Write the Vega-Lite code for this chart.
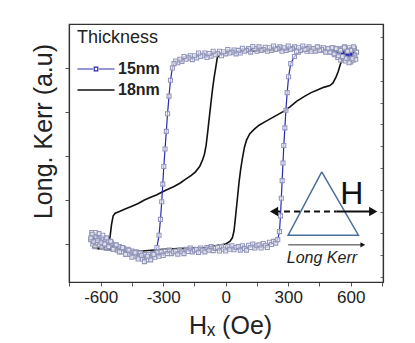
{
  "$schema": "https://vega.github.io/schema/vega-lite/v6.json",
  "width": 314,
  "height": 258,
  "autosize": "none",
  "padding": {"left": 69, "top": 24, "right": 32, "bottom": 61},
  "config": {
    "view": {"stroke": "#333", "strokeWidth": 1.2},
    "font": "Liberation Sans",
    "axis": {"grid": false, "domainColor": "#333", "domainWidth": 1.2, "tickColor": "#555", "labelFont": "Liberation Sans", "titleFont": "Liberation Sans"}
  },
  "datasets": {
    "loops": [
      {"s":"18nm","h":625,"kerr":1.2},{"s":"18nm","h":590,"kerr":1.19},{"s":"18nm","h":560,"kerr":1.18},{"s":"18nm","h":500,"kerr":1.2},{"s":"18nm","h":400,"kerr":1.2},{"s":"18nm","h":300,"kerr":1.21},{"s":"18nm","h":200,"kerr":1.2},{"s":"18nm","h":100,"kerr":1.19},{"s":"18nm","h":0,"kerr":1.17},{"s":"18nm","h":-30,"kerr":1.15},{"s":"18nm","h":-40,"kerr":1.12},{"s":"18nm","h":-48,"kerr":1.0},{"s":"18nm","h":-55,"kerr":0.9},{"s":"18nm","h":-62,"kerr":0.78},{"s":"18nm","h":-70,"kerr":0.62},{"s":"18nm","h":-78,"kerr":0.45},{"s":"18nm","h":-86,"kerr":0.28},{"s":"18nm","h":-94,"kerr":0.12},{"s":"18nm","h":-102,"kerr":0.02},{"s":"18nm","h":-112,"kerr":-0.05},{"s":"18nm","h":-125,"kerr":-0.12},{"s":"18nm","h":-145,"kerr":-0.18},{"s":"18nm","h":-165,"kerr":-0.22},{"s":"18nm","h":-190,"kerr":-0.26},{"s":"18nm","h":-220,"kerr":-0.31},{"s":"18nm","h":-250,"kerr":-0.35},{"s":"18nm","h":-280,"kerr":-0.38},{"s":"18nm","h":-305,"kerr":-0.41},{"s":"18nm","h":-330,"kerr":-0.44},{"s":"18nm","h":-360,"kerr":-0.47},{"s":"18nm","h":-390,"kerr":-0.5},{"s":"18nm","h":-420,"kerr":-0.54},{"s":"18nm","h":-450,"kerr":-0.57},{"s":"18nm","h":-480,"kerr":-0.6},{"s":"18nm","h":-510,"kerr":-0.63},{"s":"18nm","h":-530,"kerr":-0.65},{"s":"18nm","h":-540,"kerr":-0.68},{"s":"18nm","h":-548,"kerr":-0.78},{"s":"18nm","h":-554,"kerr":-0.9},{"s":"18nm","h":-560,"kerr":-1.0},{"s":"18nm","h":-590,"kerr":-1.05},{"s":"18nm","h":-640,"kerr":-1.04},{"s":"18nm","h":-600,"kerr":-1.06},{"s":"18nm","h":-500,"kerr":-1.07},{"s":"18nm","h":-400,"kerr":-1.08},{"s":"18nm","h":-300,"kerr":-1.06},{"s":"18nm","h":-200,"kerr":-1.05},{"s":"18nm","h":-100,"kerr":-1.04},{"s":"18nm","h":0,"kerr":-1.0},{"s":"18nm","h":20,"kerr":-0.97},{"s":"18nm","h":32,"kerr":-0.93},{"s":"18nm","h":40,"kerr":-0.85},{"s":"18nm","h":46,"kerr":-0.72},{"s":"18nm","h":52,"kerr":-0.58},{"s":"18nm","h":58,"kerr":-0.44},{"s":"18nm","h":64,"kerr":-0.3},{"s":"18nm","h":72,"kerr":-0.15},{"s":"18nm","h":80,"kerr":-0.03},{"s":"18nm","h":90,"kerr":0.1},{"s":"18nm","h":100,"kerr":0.18},{"s":"18nm","h":115,"kerr":0.25},{"s":"18nm","h":135,"kerr":0.3},{"s":"18nm","h":160,"kerr":0.35},{"s":"18nm","h":190,"kerr":0.39},{"s":"18nm","h":220,"kerr":0.43},{"s":"18nm","h":250,"kerr":0.47},{"s":"18nm","h":280,"kerr":0.51},{"s":"18nm","h":310,"kerr":0.56},{"s":"18nm","h":340,"kerr":0.62},{"s":"18nm","h":380,"kerr":0.68},{"s":"18nm","h":410,"kerr":0.72},{"s":"18nm","h":440,"kerr":0.75},{"s":"18nm","h":470,"kerr":0.78},{"s":"18nm","h":500,"kerr":0.8},{"s":"18nm","h":515,"kerr":0.83},{"s":"18nm","h":530,"kerr":0.9},{"s":"18nm","h":540,"kerr":0.96},{"s":"18nm","h":550,"kerr":1.04},{"s":"18nm","h":560,"kerr":1.1},{"s":"18nm","h":575,"kerr":1.15},{"s":"18nm","h":600,"kerr":1.18},{"s":"18nm","h":625,"kerr":1.19},

      {"s":"15nm","h":-648,"kerr":-0.95},{"s":"15nm","h":-643,"kerr":-0.87},{"s":"15nm","h":-638,"kerr":-1.0},{"s":"15nm","h":-632,"kerr":-0.9},{"s":"15nm","h":-627,"kerr":-1.03},{"s":"15nm","h":-622,"kerr":-0.92},{"s":"15nm","h":-617,"kerr":-0.99},{"s":"15nm","h":-611,"kerr":-0.89},{"s":"15nm","h":-606,"kerr":-1.01},{"s":"15nm","h":-600,"kerr":-0.93},{"s":"15nm","h":-594,"kerr":-1.04},{"s":"15nm","h":-588,"kerr":-0.94},{"s":"15nm","h":-582,"kerr":-1.0},{"s":"15nm","h":-576,"kerr":-0.95},{"s":"15nm","h":-570,"kerr":-1.05},{"s":"15nm","h":-563,"kerr":-0.97},{"s":"15nm","h":-556,"kerr":-1.03},{"s":"15nm","h":-548,"kerr":-0.99},{"s":"15nm","h":-540,"kerr":-1.06},{"s":"15nm","h":-530,"kerr":-1.01},{"s":"15nm","h":-520,"kerr":-1.07},{"s":"15nm","h":-510,"kerr":-1.03},{"s":"15nm","h":-500,"kerr":-1.09},{"s":"15nm","h":-490,"kerr":-1.05},{"s":"15nm","h":-480,"kerr":-1.11},{"s":"15nm","h":-470,"kerr":-1.06},{"s":"15nm","h":-460,"kerr":-1.12},{"s":"15nm","h":-450,"kerr":-1.08},{"s":"15nm","h":-440,"kerr":-1.14},{"s":"15nm","h":-430,"kerr":-1.09},{"s":"15nm","h":-420,"kerr":-1.15},{"s":"15nm","h":-410,"kerr":-1.1},{"s":"15nm","h":-400,"kerr":-1.17},{"s":"15nm","h":-390,"kerr":-1.12},{"s":"15nm","h":-380,"kerr":-1.18},{"s":"15nm","h":-370,"kerr":-1.12},{"s":"15nm","h":-360,"kerr":-1.16},{"s":"15nm","h":-350,"kerr":-1.11},{"s":"15nm","h":-340,"kerr":-1.15},{"s":"15nm","h":-330,"kerr":-1.1},{"s":"15nm","h":-320,"kerr":-1.14},{"s":"15nm","h":-310,"kerr":-1.09},
      {"s":"15nm","h":-300,"kerr":-1.13},{"s":"15nm","h":-290,"kerr":-1.08},{"s":"15nm","h":-280,"kerr":-1.11},{"s":"15nm","h":-270,"kerr":-1.07},{"s":"15nm","h":-260,"kerr":-1.11},{"s":"15nm","h":-250,"kerr":-1.09},{"s":"15nm","h":-240,"kerr":-1.08},{"s":"15nm","h":-230,"kerr":-1.115},{"s":"15nm","h":-220,"kerr":-1.065},{"s":"15nm","h":-210,"kerr":-1.09},{"s":"15nm","h":-200,"kerr":-1.11},{"s":"15nm","h":-190,"kerr":-1.06},{"s":"15nm","h":-180,"kerr":-1.085},{"s":"15nm","h":-170,"kerr":-1.045},{"s":"15nm","h":-160,"kerr":-1.09},{"s":"15nm","h":-150,"kerr":-1.07},{"s":"15nm","h":-140,"kerr":-1.06},{"s":"15nm","h":-130,"kerr":-1.095},{"s":"15nm","h":-120,"kerr":-1.045},{"s":"15nm","h":-110,"kerr":-1.07},{"s":"15nm","h":-100,"kerr":-1.09},{"s":"15nm","h":-90,"kerr":-1.04},{"s":"15nm","h":-80,"kerr":-1.07},{"s":"15nm","h":-70,"kerr":-1.03},{"s":"15nm","h":-60,"kerr":-1.075},{"s":"15nm","h":-50,"kerr":-1.05},{"s":"15nm","h":-40,"kerr":-1.04},{"s":"15nm","h":-30,"kerr":-1.08},{"s":"15nm","h":-20,"kerr":-1.03},{"s":"15nm","h":-10,"kerr":-1.06},{"s":"15nm","h":0,"kerr":-1.08},{"s":"15nm","h":10,"kerr":-1.03},{"s":"15nm","h":20,"kerr":-1.06},{"s":"15nm","h":30,"kerr":-1.02},{"s":"15nm","h":40,"kerr":-1.065},{"s":"15nm","h":50,"kerr":-1.04},{"s":"15nm","h":60,"kerr":-1.03},{"s":"15nm","h":70,"kerr":-1.07},{"s":"15nm","h":80,"kerr":-1.02},{"s":"15nm","h":90,"kerr":-1.05},{"s":"15nm","h":100,"kerr":-1.07},{"s":"15nm","h":110,"kerr":-1.015},{"s":"15nm","h":120,"kerr":-1.04},{"s":"15nm","h":130,"kerr":-1.0},{"s":"15nm","h":140,"kerr":-1.045},{"s":"15nm","h":150,"kerr":-1.02},{"s":"15nm","h":160,"kerr":-1.01},{"s":"15nm","h":170,"kerr":-1.045},{"s":"15nm","h":180,"kerr":-0.995},{"s":"15nm","h":190,"kerr":-1.02},{"s":"15nm","h":200,"kerr":-1.04},{"s":"15nm","h":210,"kerr":-0.98},{"s":"15nm","h":220,"kerr":-1.005},{"s":"15nm","h":230,"kerr":-0.97},{"s":"15nm","h":240,"kerr":-0.99},{"s":"15nm","h":250,"kerr":-0.95},
      {"s":"15nm","h":258,"kerr":-0.86},{"s":"15nm","h":263,"kerr":-0.68},{"s":"15nm","h":267,"kerr":-0.48},{"s":"15nm","h":271,"kerr":-0.28},{"s":"15nm","h":275,"kerr":-0.08},{"s":"15nm","h":279,"kerr":0.12},{"s":"15nm","h":284,"kerr":0.32},{"s":"15nm","h":289,"kerr":0.52},{"s":"15nm","h":295,"kerr":0.72},{"s":"15nm","h":302,"kerr":0.9},{"s":"15nm","h":312,"kerr":1.05},{"s":"15nm","h":330,"kerr":1.13},
      {"s":"15nm","h":350,"kerr":1.18},{"s":"15nm","h":370,"kerr":1.21},{"s":"15nm","h":390,"kerr":1.19},{"s":"15nm","h":410,"kerr":1.22},{"s":"15nm","h":430,"kerr":1.2},{"s":"15nm","h":450,"kerr":1.23},{"s":"15nm","h":470,"kerr":1.2},{"s":"15nm","h":490,"kerr":1.22},{"s":"15nm","h":505,"kerr":1.18},{"s":"15nm","h":515,"kerr":1.23},{"s":"15nm","h":524,"kerr":1.15},{"s":"15nm","h":532,"kerr":1.22},{"s":"15nm","h":538,"kerr":1.12},{"s":"15nm","h":545,"kerr":1.21},{"s":"15nm","h":552,"kerr":1.09},{"s":"15nm","h":558,"kerr":1.22},{"s":"15nm","h":564,"kerr":1.12},{"s":"15nm","h":570,"kerr":1.24},{"s":"15nm","h":576,"kerr":1.08},{"s":"15nm","h":582,"kerr":1.2},{"s":"15nm","h":588,"kerr":1.1},{"s":"15nm","h":594,"kerr":1.23},{"s":"15nm","h":600,"kerr":1.07},{"s":"15nm","h":606,"kerr":1.21},{"s":"15nm","h":612,"kerr":1.09},{"s":"15nm","h":618,"kerr":1.22},{"s":"15nm","h":624,"kerr":1.1},{"s":"15nm","h":628,"kerr":1.18},
      {"s":"15nm","h":620,"kerr":1.14},{"s":"15nm","h":614,"kerr":1.24},{"s":"15nm","h":607,"kerr":1.11},{"s":"15nm","h":600,"kerr":1.2},{"s":"15nm","h":592,"kerr":1.06},{"s":"15nm","h":585,"kerr":1.19},{"s":"15nm","h":577,"kerr":1.11},{"s":"15nm","h":569,"kerr":1.23},{"s":"15nm","h":560,"kerr":1.13},{"s":"15nm","h":551,"kerr":1.2},{"s":"15nm","h":541,"kerr":1.14},{"s":"15nm","h":530,"kerr":1.22},{"s":"15nm","h":520,"kerr":1.16},
      {"s":"15nm","h":510,"kerr":1.23},{"s":"15nm","h":500,"kerr":1.18},{"s":"15nm","h":490,"kerr":1.22},{"s":"15nm","h":480,"kerr":1.18},{"s":"15nm","h":470,"kerr":1.23},{"s":"15nm","h":460,"kerr":1.21},{"s":"15nm","h":450,"kerr":1.2},{"s":"15nm","h":440,"kerr":1.24},{"s":"15nm","h":430,"kerr":1.19},{"s":"15nm","h":420,"kerr":1.22},{"s":"15nm","h":410,"kerr":1.19},{"s":"15nm","h":400,"kerr":1.24},{"s":"15nm","h":390,"kerr":1.22},{"s":"15nm","h":380,"kerr":1.21},{"s":"15nm","h":370,"kerr":1.25},{"s":"15nm","h":360,"kerr":1.2},{"s":"15nm","h":350,"kerr":1.23},{"s":"15nm","h":340,"kerr":1.19},{"s":"15nm","h":330,"kerr":1.24},{"s":"15nm","h":320,"kerr":1.22},{"s":"15nm","h":310,"kerr":1.21},{"s":"15nm","h":300,"kerr":1.25},{"s":"15nm","h":290,"kerr":1.2},{"s":"15nm","h":280,"kerr":1.23},{"s":"15nm","h":270,"kerr":1.19},{"s":"15nm","h":260,"kerr":1.24},{"s":"15nm","h":250,"kerr":1.22},{"s":"15nm","h":240,"kerr":1.21},{"s":"15nm","h":230,"kerr":1.25},{"s":"15nm","h":220,"kerr":1.2},{"s":"15nm","h":210,"kerr":1.23},{"s":"15nm","h":200,"kerr":1.19},{"s":"15nm","h":190,"kerr":1.235},{"s":"15nm","h":180,"kerr":1.21},{"s":"15nm","h":170,"kerr":1.2},{"s":"15nm","h":160,"kerr":1.24},{"s":"15nm","h":150,"kerr":1.19},{"s":"15nm","h":140,"kerr":1.22},{"s":"15nm","h":130,"kerr":1.245},{"s":"15nm","h":120,"kerr":1.18},{"s":"15nm","h":110,"kerr":1.22},{"s":"15nm","h":100,"kerr":1.2},{"s":"15nm","h":90,"kerr":1.19},{"s":"15nm","h":80,"kerr":1.225},{"s":"15nm","h":70,"kerr":1.17},{"s":"15nm","h":60,"kerr":1.2},{"s":"15nm","h":50,"kerr":1.16},{"s":"15nm","h":40,"kerr":1.205},{"s":"15nm","h":30,"kerr":1.18},{"s":"15nm","h":20,"kerr":1.17},{"s":"15nm","h":10,"kerr":1.21},{"s":"15nm","h":0,"kerr":1.16},{"s":"15nm","h":-10,"kerr":1.185},{"s":"15nm","h":-20,"kerr":1.14},{"s":"15nm","h":-30,"kerr":1.19},{"s":"15nm","h":-40,"kerr":1.165},{"s":"15nm","h":-50,"kerr":1.15},{"s":"15nm","h":-60,"kerr":1.19},{"s":"15nm","h":-70,"kerr":1.135},{"s":"15nm","h":-80,"kerr":1.165},{"s":"15nm","h":-90,"kerr":1.12},{"s":"15nm","h":-100,"kerr":1.17},{"s":"15nm","h":-110,"kerr":1.145},{"s":"15nm","h":-120,"kerr":1.13},{"s":"15nm","h":-130,"kerr":1.17},{"s":"15nm","h":-140,"kerr":1.115},{"s":"15nm","h":-150,"kerr":1.14},{"s":"15nm","h":-160,"kerr":1.095},{"s":"15nm","h":-170,"kerr":1.14},{"s":"15nm","h":-180,"kerr":1.115},{"s":"15nm","h":-190,"kerr":1.1},{"s":"15nm","h":-200,"kerr":1.13},{"s":"15nm","h":-210,"kerr":1.075},{"s":"15nm","h":-220,"kerr":1.1},{"s":"15nm","h":-230,"kerr":1.06},{"s":"15nm","h":-240,"kerr":1.08},{"s":"15nm","h":-248,"kerr":1.05},
      {"s":"15nm","h":-256,"kerr":1.0},{"s":"15nm","h":-265,"kerr":0.86},{"s":"15nm","h":-272,"kerr":0.68},{"s":"15nm","h":-279,"kerr":0.48},{"s":"15nm","h":-285,"kerr":0.28},{"s":"15nm","h":-291,"kerr":0.08},{"s":"15nm","h":-297,"kerr":-0.12},{"s":"15nm","h":-302,"kerr":-0.32},{"s":"15nm","h":-307,"kerr":-0.52},{"s":"15nm","h":-313,"kerr":-0.72},{"s":"15nm","h":-320,"kerr":-0.9},{"s":"15nm","h":-330,"kerr":-1.04},
      {"s":"15nm","h":-345,"kerr":-1.12},{"s":"15nm","h":-360,"kerr":-1.18},{"s":"15nm","h":-375,"kerr":-1.14},{"s":"15nm","h":-390,"kerr":-1.2},{"s":"15nm","h":-405,"kerr":-1.13},{"s":"15nm","h":-420,"kerr":-1.17},{"s":"15nm","h":-435,"kerr":-1.1},{"s":"15nm","h":-450,"kerr":-1.15},{"s":"15nm","h":-465,"kerr":-1.07},{"s":"15nm","h":-480,"kerr":-1.12},{"s":"15nm","h":-495,"kerr":-1.04},{"s":"15nm","h":-510,"kerr":-1.09},{"s":"15nm","h":-525,"kerr":-1.01},{"s":"15nm","h":-540,"kerr":-1.06},{"s":"15nm","h":-552,"kerr":-0.97},{"s":"15nm","h":-562,"kerr":-1.03},{"s":"15nm","h":-572,"kerr":-0.93},{"s":"15nm","h":-581,"kerr":-1.0},{"s":"15nm","h":-590,"kerr":-0.9},{"s":"15nm","h":-599,"kerr":-0.98},{"s":"15nm","h":-608,"kerr":-0.88},{"s":"15nm","h":-617,"kerr":-0.96},{"s":"15nm","h":-626,"kerr":-0.87},{"s":"15nm","h":-634,"kerr":-0.97},{"s":"15nm","h":-641,"kerr":-0.89},{"s":"15nm","h":-647,"kerr":-0.93}
    ],
    "triangle": [
      {"h": 461, "kerr": -0.18}, {"h": 300, "kerr": -0.9}, {"h": 637, "kerr": -0.9}, {"h": 461, "kerr": -0.18}
    ],
    "hDashed": [{"h": 232, "h2": 533, "kerr": -0.63}],
    "hSolid": [{"h": 533, "h2": 705, "kerr": -0.63}],
    "hLeftHead": [{"h": 232, "kerr": -0.63}],
    "hRightHead": [{"h": 708, "kerr": -0.63}],
    "kerrArrow": [{"h": 300, "h2": 655, "kerr": -1.01}],
    "kerrHead": [{"h": 658, "kerr": -1.01}],
    "hLabel": [{"h": 605, "kerr": -0.43, "t": "H"}],
    "kerrLabel": [{"h": 462, "kerr": -1.16, "t": "Long Kerr"}]
  },
  "encoding": {
    "x": {"field": "h", "type": "quantitative", "scale": {"domain": [-752, 755], "nice": false, "zero": false},
      "axis": {"orient": "bottom", "values": [-750,-600,-450,-300,-150,0,150,300,450,600,750],
        "labelExpr": "datum.value % 300 == 0 ? '' + datum.value : ''",
        "tickSize": 4, "labelFontSize": 17, "labelColor": "#222", "labelPadding": 3, "labelOverlap": false,
        "title": "Hₓ (Oe)", "titleFontSize": 25, "titleFontWeight": "normal", "titleColor": "#222",
        "titleX": 161, "titleY": 51, "titleBaseline": "alphabetic", "titleAlign": "center"}},
    "y": {"field": "kerr", "type": "quantitative", "scale": {"domain": [-1.432, 1.5], "nice": false, "zero": false}, "axis": null}
  },
  "layer": [
    {
      "data": {"name": "loops"},
      "mark": {"type": "line", "interpolate": "linear"},
      "encoding": {
        "y": {"field": "kerr", "type": "quantitative", "scale": {"domain": [-1.432, 1.5], "nice": false, "zero": false},
          "axis": {"orient": "left", "labels": false, "values": [-1,-0.5,0,0.5,1], "tickSize": 4,
            "title": "Long. Kerr (a.u)", "titleFontSize": 25, "titleFontWeight": "normal", "titleColor": "#222",
            "titleX": -26, "titleY": 107, "titleBaseline": "middle", "titleAlign": "center", "titleAngle": -90}},
        "order": {"value": null},
        "color": {"field": "s", "type": "nominal", "scale": {"domain": ["15nm", "18nm"], "range": ["#2a2ab2", "#111111"]},
          "legend": {"orient": "none", "legendX": 8, "legendY": 5, "title": "Thickness", "titleFontSize": 18, "titleFontWeight": "normal", "titleColor": "#222", "titlePadding": 11,
            "labelFontSize": 16, "labelFontWeight": "bold", "labelColor": "#222", "labelOffset": 11,
            "symbolSize": 400, "symbolOffset": 8, "symbolStrokeWidth": 1.5, "rowPadding": 2, "padding": 0,
            "encode": {"symbols": {"update": {
              "shape": {"signal": "datum.value == '15nm' ? 'M-1.85,0H-0.3M0.3,0H1.85M-0.18,-0.18H0.18V0.18H-0.18Z' : 'M-1.85,0H1.85'"},
              "fill": {"value": "white"}, "fillOpacity": {"value": 1}}}}}},
        "strokeWidth": {"field": "s", "type": "nominal", "scale": {"domain": ["15nm", "18nm"], "range": [1.2, 1.6]}, "legend": null}
      }
    },
    {
      "data": {"name": "loops"},
      "transform": [{"filter": "datum.s == '15nm'"}],
      "mark": {"type": "point", "shape": "square", "size": 16, "filled": true, "fill": "white", "fillOpacity": 0.6, "stroke": "#9296b8", "strokeWidth": 1.1, "opacity": 1},
      "encoding": {
        "y": {"field": "kerr", "type": "quantitative", "scale": {"domain": [-1.432, 1.5], "nice": false, "zero": false},
          "axis": {"orient": "right", "labels": false, "title": null, "tickSize": -3, "tickColor": "#666",
            "values": [1.35, 1.102, 0.855, 0.607, 0.359, 0.112, -0.136, -0.384, -0.632, -0.879, -1.127, -1.375]}}
      }
    },
    {
      "data": {"name": "triangle"},
      "mark": {"type": "line", "color": "#4b6e9b", "strokeWidth": 1.5},
      "encoding": {"order": {"value": null}}
    },
    {
      "data": {"name": "hDashed"},
      "mark": {"type": "rule", "color": "#111", "strokeWidth": 2, "strokeDash": [6, 4]},
      "encoding": {"x2": {"field": "h2"}}
    },
    {
      "data": {"name": "hSolid"},
      "mark": {"type": "rule", "color": "#111", "strokeWidth": 2},
      "encoding": {"x2": {"field": "h2"}}
    },
    {
      "data": {"name": "hLeftHead"},
      "mark": {"type": "point", "shape": "triangle-left", "size": 90, "filled": true, "color": "#111", "opacity": 1}
    },
    {
      "data": {"name": "hRightHead"},
      "mark": {"type": "point", "shape": "triangle-right", "size": 90, "filled": true, "color": "#111", "opacity": 1}
    },
    {
      "data": {"name": "kerrArrow"},
      "mark": {"type": "rule", "color": "#333", "strokeWidth": 1},
      "encoding": {"x2": {"field": "h2"}}
    },
    {
      "data": {"name": "kerrHead"},
      "mark": {"type": "point", "shape": "triangle-right", "size": 30, "filled": true, "color": "#111", "opacity": 1}
    },
    {
      "data": {"name": "hLabel"},
      "mark": {"type": "text", "fontSize": 32, "font": "Liberation Sans", "color": "#111", "align": "center", "baseline": "middle"},
      "encoding": {"text": {"field": "t"}}
    },
    {
      "data": {"name": "kerrLabel"},
      "mark": {"type": "text", "fontSize": 16, "fontStyle": "italic", "font": "Liberation Sans", "color": "#222", "align": "center", "baseline": "middle"},
      "encoding": {"text": {"field": "t"}}
    }
  ],
  "resolve": {"axis": {"y": "independent"}}
}
